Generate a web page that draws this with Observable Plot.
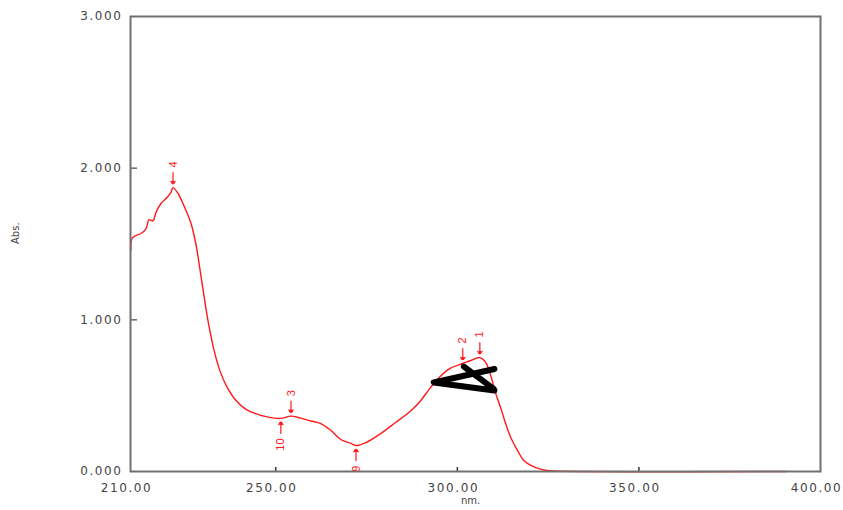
<!DOCTYPE html>
<html>
<head>
<meta charset="utf-8">
<script src="https://cdn.jsdelivr.net/npm/d3@7"></script>
<script src="https://cdn.jsdelivr.net/npm/@observablehq/plot@0.6"></script>
<style>
  html, body { margin: 0; padding: 0; background: #fff; }
  g[aria-label="y-axis tick label"] text,
  g[aria-label="x-axis tick label"] text { letter-spacing: 1.6px; }
</style>
</head>
<body>
<div id="chart"></div>
<script>
// Spectrum (wavelength nm, absorbance)
const wavelength = [210.1, 210.4, 211.5, 212.9, 214.3, 215.1, 216.2, 217.0, 218.4, 219.8, 221.1, 221.7,
  223.1, 224.7, 226.6, 228.0, 229.4, 231.3, 233.0, 234.4, 236.3, 239.0, 241.8, 245.9, 249.5, 251.4,
  254.2, 256.9, 259.7, 262.4, 265.2, 267.9, 270.7, 272.1, 274.8, 278.9, 283.0, 287.2, 290.0, 292.5,
  295.0, 298.0, 301.5, 303.7, 306.2, 307.8, 309.2, 310.5, 311.9, 313.3, 314.7, 316.6, 318.3, 321.6,
  324.3, 327.1, 390.4];
const absorbance = [1.457, 1.536, 1.556, 1.569, 1.602, 1.660, 1.652, 1.707, 1.767, 1.800, 1.839, 1.872,
  1.833, 1.753, 1.640, 1.500, 1.290, 1.000, 0.800, 0.680, 0.570, 0.470, 0.410, 0.370, 0.352, 0.350,
  0.365, 0.352, 0.333, 0.316, 0.270, 0.211, 0.185, 0.171, 0.191, 0.250, 0.323, 0.400, 0.470, 0.550,
  0.620, 0.680, 0.712, 0.732, 0.751, 0.719, 0.633, 0.520, 0.422, 0.316, 0.224, 0.138, 0.073, 0.026,
  0.008, 0.003, 0.000];

// Peak / valley pick markers
const pickNm = [221.7, 254.2, 251.4, 272.1, 301.5, 306.2];
const pickAbs = [1.872, 0.365, 0.350, 0.171, 0.712, 0.751];
const pickLabel = ["4", "3", "10", "9", "2", "1"];
const pickSide = ["up", "up", "down", "down", "up", "up"];

// Black hand-drawn annotation strokes
const markNm = [310.2, 293.5, 310.2, null, 301.8, 310.0];
const markAbs = [0.676, 0.587, 0.534, null, 0.692, 0.545];

// Axis ticks
const xTickLabels = [210, 250, 300, 350, 400];
const xTickMarks = [250, 300, 350];
const yTickLabels = [0, 1, 2, 3];
const yTickMarks = [1, 2];

const spectrum = wavelength.map((x, i) => ({x, y: absorbance[i]}));
const picks = pickNm.map((x, i) => ({x, y: pickAbs[i], label: pickLabel[i], side: pickSide[i]}));
const ups = picks.filter(d => d.side === "up");
const downs = picks.filter(d => d.side === "down");
const annot = markNm.map((x, i) => ({x, y: markAbs[i]}));

const W = 843, H = 510, ML = 130, MR = 23, MT = 16, MB = 39;
const red = "#ff1a1a";

const chart = Plot.plot({
  width: W, height: H,
  marginLeft: ML, marginRight: MR, marginTop: MT, marginBottom: MB,
  style: {fontFamily: "DejaVu Sans", fontSize: "12px", color: "#444", background: "#fff"},
  x: {domain: [210, 400]},
  y: {domain: [0, 3]},
  marks: [
    Plot.axisY({ticks: yTickLabels, tickFormat: d3.format(".3f"), tickSize: 0, tickPadding: 8, label: null, fill: "#444"}),
    Plot.axisX({ticks: xTickLabels, tickFormat: d3.format(".2f"), tickSize: 0, tickPadding: 12, dx: -4, label: null, fill: "#444"}),
    Plot.tickY(yTickMarks, {y: d => d, insetRight: (W - ML - MR) - 7, stroke: "#666", strokeWidth: 1.5}),
    Plot.tickX(xTickMarks, {x: d => d, insetTop: (H - MT - MB) - 4, stroke: "#333", strokeWidth: 1.5}),
    Plot.text(["Abs."], {frameAnchor: "left", dx: -115, rotate: -90, fontSize: 10, fill: "#444"}),
    Plot.text(["nm."], {frameAnchor: "bottom", dx: -5, dy: 32, fontSize: 10, fill: "#444"}),
    Plot.line(spectrum, {x: "x", y: "y", stroke: red, strokeWidth: 1.4, curve: "catmull-rom"}),
    Plot.frame({stroke: "#707070", strokeWidth: 2}),
    Plot.line(annot, {x: "x", y: "y", stroke: "#000", strokeWidth: 6, strokeLinecap: "round", strokeLinejoin: "round"}),
    // up markers (label above, arrow pointing down)
    Plot.vector(ups, {x: "x", y: "y", length: 11, rotate: 180, anchor: "end", dy: -4, stroke: red, strokeWidth: 1.2}),
    Plot.dot(ups, {x: "x", y: "y", dy: -5, r: 1.8, fill: red}),
    Plot.text(ups, {x: "x", y: "y", text: "label", rotate: -90, dy: -20, textAnchor: "start", fill: red, fontSize: 11, fontFamily: "Liberation Sans"}),
    // down markers (label below, arrow pointing up)
    Plot.vector(downs, {x: "x", y: "y", length: 11, rotate: 0, anchor: "end", dy: 4, stroke: red, strokeWidth: 1.2}),
    Plot.dot(downs, {x: "x", y: "y", dy: 5, r: 1.8, fill: red}),
    Plot.text(downs, {x: "x", y: "y", text: "label", rotate: -90, dy: 20, textAnchor: "end", fill: red, fontSize: 11, fontFamily: "Liberation Sans", clip: true})
  ]
});
document.getElementById("chart").appendChild(chart);
</script>
</body>
</html>
